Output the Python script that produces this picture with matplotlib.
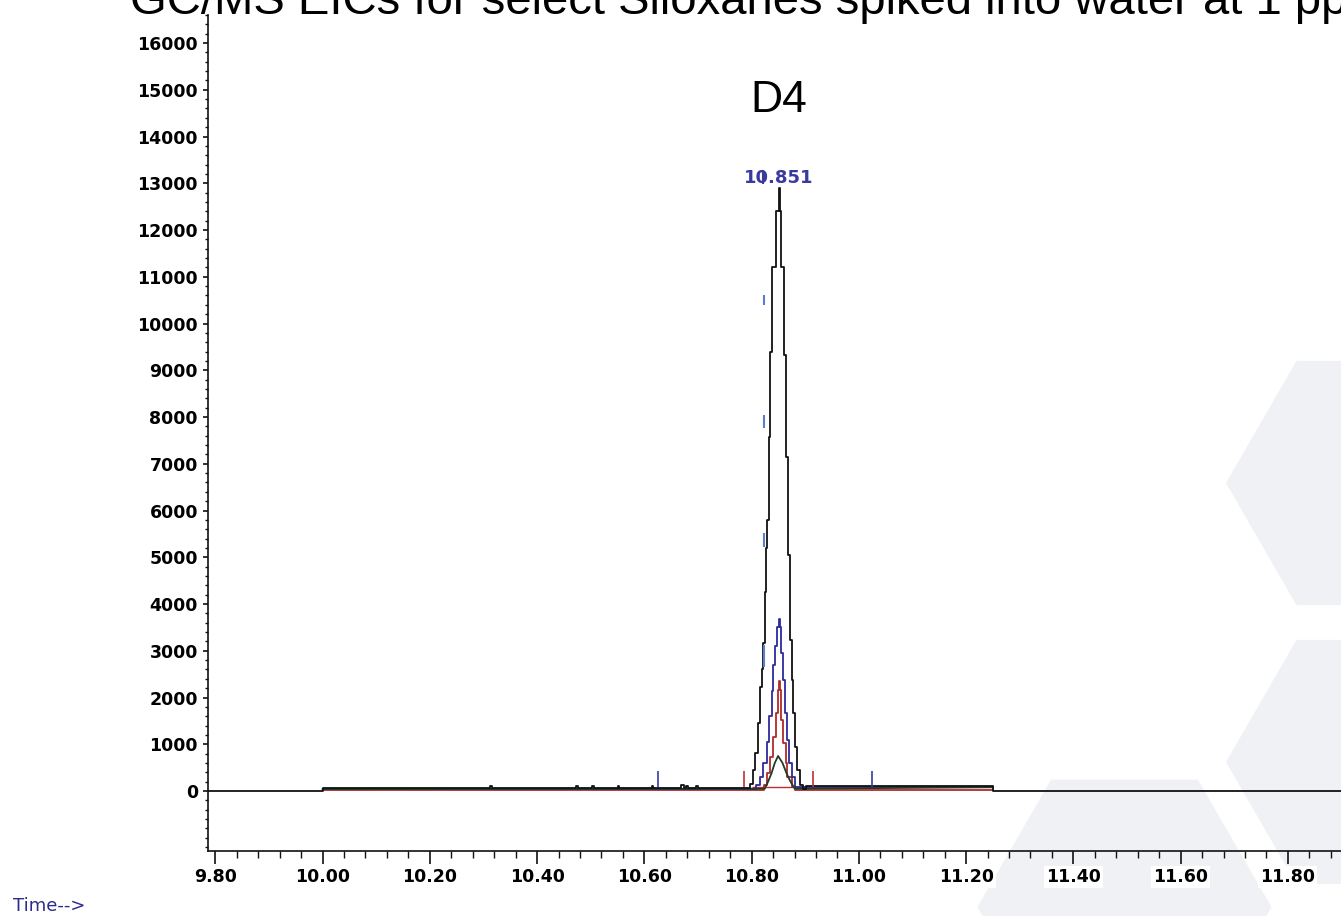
import matplotlib
matplotlib.use('Agg')
import matplotlib.pyplot as plt
from matplotlib.patches import Polygon
from matplotlib.ticker import FixedLocator, MultipleLocator

W, H = 1341, 916

# ---------------- data ----------------
x_ticks = [9.80, 10.00, 10.20, 10.40, 10.60, 10.80, 11.00, 11.20, 11.40, 11.60, 11.80]
x_labels = ["9.80", "10.00", "10.20", "10.40", "10.60", "10.80", "11.00",
            "11.20", "11.40", "11.60", "11.80"]
y_ticks = [0, 1000, 2000, 3000, 4000, 5000, 6000, 7000, 8000, 9000, 10000,
           11000, 12000, 13000, 14000, 15000, 16000]
y_labels = [str(v) for v in y_ticks]

# main ion trace (black), scan-step data
black_t = [9.7856, 10.000, 10.312, 10.315, 10.473, 10.476, 10.503, 10.506,
           10.550, 10.553, 10.614, 10.617, 10.669, 10.674, 10.678, 10.681,
           10.697, 10.700,
           10.7966, 10.8022, 10.8060, 10.8116, 10.8162, 10.8190, 10.8218,
           10.8246, 10.8265, 10.8293, 10.8321, 10.8349, 10.8386, 10.8451,
           10.8516, 10.8535, 10.8557, 10.8600, 10.8647, 10.8680, 10.8712,
           10.8744, 10.8773, 10.8805, 10.8848, 10.8898, 10.8960, 10.9023,
           11.250, 11.899]
black_y = [0, 60, 110, 60, 100, 60, 100, 60,
           110, 60, 110, 60, 120, 60, 110, 60,
           100, 60,
           150, 450, 810, 1450, 2220, 2600, 3170,
           4260, 5200, 5800, 7580, 9400, 11200, 12400,
           12900, 12400, 11200, 9330, 7150, 5050, 3230,
           2370, 1670, 940, 450, 130, 50, 110,
           0, 0]

# qualifier ion 1 (blue)
blue_t = [10.000, 10.8091, 10.8153, 10.8214, 10.8278, 10.8326, 10.8371,
          10.8401, 10.8432, 10.8475, 10.8503, 10.8526, 10.8557, 10.8587,
          10.8619, 10.8651, 10.8693, 10.8744, 10.8805, 10.8867, 11.250]
blue_y = [50, 120, 300, 600, 1050, 1600, 2150, 2700, 3100, 3500, 3680,
          3500, 2950, 2370, 1670, 1090, 600, 300, 80, 90, 90]

# qualifier ion 2 (red)
red_t = [10.000, 10.8227, 10.8289, 10.8352, 10.8401, 10.8446, 10.8483,
         10.8503, 10.8526, 10.8557, 10.8587, 10.8632, 10.8667, 10.8744,
         10.8805, 11.250]
red_y = [20, 130, 380, 730, 1150, 1670, 2170, 2350, 2170, 1520, 1020,
         600, 300, 80, 20, 20]

# qualifier ion 3 (dark)
small_t = [10.000, 10.8246, 10.8307, 10.8371, 10.8432, 10.8494, 10.8576,
           10.8651, 10.8725, 10.8805, 11.250]
small_y = [40, 50, 200, 380, 600, 750, 600, 380, 200, 50, 80]

# integration markers
integ_t = [10.626, 10.785, 10.915, 11.025]
integ_colors = ['#3a3aa8', '#c03030', '#c03030', '#3a3aa8']
integ_lo, integ_hi = 90, 430
integ_base_t = [10.800, 10.9025]
integ_base_y = 90

# expected-RT markers beside peak
rt_mark_t = 10.8234
rt_mark_lo = [10400, 7760, 5220, 2650]
rt_mark_hi = [10600, 8040, 5520, 3120]

peak_rt = 10.851
peak_label = "10.851"
peak_label_y = 13120
peak_bar_t = 10.8213
compound = "D4"
title = "GC/MS EICs for select Siloxanes spiked into water at 1 ppb"

# ---------------- figure ----------------
fig = plt.figure(figsize=(W / 100, H / 100), dpi=100)
fig.patch.set_facecolor('white')

# watermark hexagons (pixel centre x, centre y, side)
hexes = [(1367, 483, 141), (1367, 762, 141), (1124.5, 907, 147)]
for cx, cy, L in hexes:
    pts = [(cx - L, cy), (cx - L / 2, cy - L * 0.866), (cx + L / 2, cy - L * 0.866),
           (cx + L, cy), (cx + L / 2, cy + L * 0.866), (cx - L / 2, cy + L * 0.866)]
    pts = [(px / W, 1 - py / H) for px, py in pts]
    fig.add_artist(Polygon(pts, closed=True, transform=fig.transFigure,
                           facecolor='#eff1f4', edgecolor='none', zorder=-5))

ax = fig.add_axes([207.6 / W, 65 / H, (W - 207.6) / W, 836 / H])
ax.patch.set_visible(False)
ax.set_xlim(9.7856, 11.899)
ax.set_ylim(-1283, 16600)
for s in ['top', 'right']:
    ax.spines[s].set_visible(False)
for s in ['left', 'bottom']:
    ax.spines[s].set_linewidth(1.2)
    ax.spines[s].set_color('#111111')

ax.xaxis.set_major_locator(FixedLocator(x_ticks))
ax.set_xticklabels(x_labels)
ax.xaxis.set_minor_locator(MultipleLocator(0.04))
ax.yaxis.set_major_locator(FixedLocator(y_ticks))
ax.set_yticklabels(y_labels)
ax.yaxis.set_minor_locator(MultipleLocator(200))

ax.tick_params(axis='x', which='major', direction='out', length=9, width=1.2,
               pad=3, labelsize=12.5, color='#111111')
ax.tick_params(axis='x', which='minor', direction='out', length=5, width=1.0,
               color='#111111')
ax.tick_params(axis='y', which='major', direction='out', length=3.5, width=1.2,
               pad=3.5, labelsize=12.5, color='#111111')
ax.tick_params(axis='y', which='minor', direction='out', length=2, width=1.0,
               color='#111111')
for lab in ax.get_xticklabels() + ax.get_yticklabels():
    lab.set_fontweight('bold')
    lab.set_family('DejaVu Sans')
for lab in ax.get_xticklabels():
    lab.set_bbox(dict(facecolor='white', edgecolor='none', pad=1.5))

# traces
ax.plot(red_t, red_y, drawstyle='steps-post', color='#b22a2a', lw=1.3, zorder=3)
ax.plot(blue_t, blue_y, drawstyle='steps-post', color='#2b2b9c', lw=1.3, zorder=4)
ax.plot(small_t, small_y, color='#1f3d26', lw=1.3, zorder=4)
ax.plot(black_t, black_y, drawstyle='steps-post', color='#111111', lw=1.3, zorder=5)

# integration markers
for t, c in zip(integ_t, integ_colors):
    ax.vlines(t, integ_lo, integ_hi, color=c, lw=1.2, zorder=6)
ax.hlines(integ_base_y, integ_base_t[0], integ_base_t[1], color='#c03030', lw=1.0, zorder=2)
ax.vlines([rt_mark_t] * len(rt_mark_lo), rt_mark_lo, rt_mark_hi, color='#5b7fd0',
          lw=1.5, zorder=6)

# peak label
ax.text(peak_rt, peak_label_y, peak_label, color='#3a3a9e', ha='center', va='center',
        fontsize=13, fontweight='bold', family='DejaVu Sans', zorder=7)
ax.vlines(peak_bar_t, 12980, 13280, color='#3a3a9e', lw=1.5, zorder=8)

# texts
fig.text(779 / W, 1 - 101 / H, compound, fontsize=32, family='Liberation Sans',
         ha='center', va='center')
fig.text(130 / W, 1 - 14 / H, title, fontsize=34, family='Liberation Sans',
         ha='left', va='baseline')
fig.text(13 / W, 1 - 906 / H, "Time-->", fontsize=13, family='DejaVu Sans',
         color='#2b2b8c', ha='left', va='center')

fig.savefig('out.png', dpi=100)
